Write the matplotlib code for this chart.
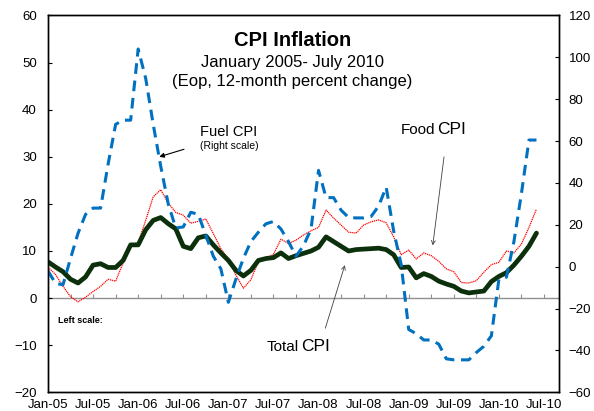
import matplotlib
matplotlib.use('Agg')
import matplotlib.pyplot as plt

plt.rcParams['font.family'] = ['Liberation Sans', 'DejaVu Sans']

# months Jan-05 .. Jun-10 (index 0 = Jan-05)
months = list(range(66))

total_cpi = [7.7, 6.6, 5.6, 4.0, 3.2, 4.5, 7.0, 7.3, 6.5, 6.5, 8.0, 11.3,
             11.3, 14.5, 16.5, 17.1, 15.8, 14.7, 11.0, 10.5, 12.8, 13.2, 11.3, 9.6,
             8.0, 5.9, 4.7, 5.9, 8.0, 8.4, 8.6, 9.6, 8.4, 9.0, 9.5, 10.0,
             10.8, 13.0, 12.0, 11.0, 10.0, 10.3, 10.4, 10.5, 10.6, 10.3, 9.2, 6.5,
             6.6, 4.3, 5.2, 4.6, 3.6, 3.0, 2.5, 1.5, 1.1, 1.3, 1.5, 3.5,
             4.6, 5.4, 7.0, 8.9, 11.0, 13.8]

food_cpi = [6.6, 5.0, 2.5, 0.3, -0.8, 0.2, 1.4, 2.5, 4.0, 3.6, 7.5, 11.3,
            11.8, 16.5, 21.5, 23.0, 20.2, 18.2, 17.6, 15.9, 16.3, 16.8, 13.7, 10.5,
            8.2, 4.9, 2.1, 3.9, 7.8, 8.4, 9.3, 12.5, 11.6, 12.3, 13.4, 14.3,
            15.0, 18.7, 17.0, 15.5, 14.0, 13.8, 15.5, 16.2, 16.6, 16.0, 13.0, 9.2,
            10.2, 8.3, 9.6, 9.0, 7.8, 6.2, 5.6, 3.3, 3.2, 3.7, 5.5, 7.1,
            7.6, 10.0, 9.6, 11.5, 15.0, 18.9]

fuel_cpi = [-2, -8, -8.6, 4, 16, 25, 28, 28, 49, 68, 70, 70,
            104, 90, 68, 48, 30, 18.5, 19, 26, 25, 15, 5, -1,
            -17, -6, 4, 12, 16.5, 20.5, 21.6, 18, 12, 5, 10, 18,
            46, 33, 33, 27, 23.5, 23.3, 23.3, 24, 29, 38, 17, 1,
            -30, -32, -35, -35, -37, -44, -44.5, -44.5, -44.5, -41, -38, -33,
            -6, -5, 12, 35, 60.5, 60.5]

tick_pos = list(range(0, 67, 6))
tick_labels = ['Jan-05', 'Jul-05', 'Jan-06', 'Jul-06', 'Jan-07', 'Jul-07',
               'Jan-08', 'Jul-08', 'Jan-09', 'Jul-09', 'Jan-10', 'Jul-10']

fig = plt.figure(figsize=(5.94, 4.11), dpi=100)
ax = fig.add_axes([0.0808, 0.0455, 0.8603, 0.9168])
ax2 = ax.twinx()

ax.plot(months, food_cpi, color='#ff0000', lw=0.9, ls=(0, (1, 0.6)), zorder=3)
ax.plot(months, total_cpi, color='#0b300b', lw=3.4, solid_joinstyle='round',
        solid_capstyle='round', zorder=4)
ax2.plot(months, fuel_cpi, color='#0070c0', lw=2.2, dashes=(3.5, 2.2))

ax.set_xlim(0, 68)
ax.set_ylim(-20, 60)
ax2.set_ylim(-60, 120)
ax.set_yticks(range(-20, 61, 10))
ax2.set_yticks(range(-60, 121, 20))
ax.set_xticks(tick_pos)
ax.set_xticklabels(tick_labels)

ax.tick_params(axis='x', length=0, pad=5, labelsize=9.5)
ax.tick_params(axis='y', direction='in', length=3, pad=8, labelsize=9.5)
ax2.tick_params(axis='y', direction='in', length=3, pad=7, labelsize=9.5)
for lab in ax.get_yticklabels():
    lab.set_verticalalignment('center_baseline')
for a in (ax, ax2):
    for s in a.spines.values():
        s.set_linewidth(1.0)

# zero line of the left scale with quarterly ticks
zero = ax.secondary_xaxis(0.25)
zero.set_xticks(range(0, 67, 3))
zero.tick_params(direction='in', length=3, color='#909090', labelbottom=False,
                 labeltop=False)
zero.spines['bottom'].set_color('#909090')
zero.spines['bottom'].set_linewidth(1.0)

ax.text(0.478, 0.933, 'CPI Inflation', transform=ax.transAxes, ha='center',
        va='center', fontsize=14.5, fontweight='bold')
ax.text(0.478, 0.874, 'January 2005- July 2010', transform=ax.transAxes,
        ha='center', va='center', fontsize=12)
ax.text(0.478, 0.824, '(Eop, 12-month percent change)', transform=ax.transAxes,
        ha='center', va='center', fontsize=12)

ax.text(24.1, 35.3, 'Fuel CPI', ha='center', va='center', fontsize=10.5)
ax.text(24.1, 32.2, '(Right scale)', ha='center', va='center', fontsize=7.5)
ax.annotate('', xy=(14.8, 30.0), xytext=(18.1, 31.6),
            arrowprops=dict(arrowstyle='-|>', color='black', lw=0.8,
                            mutation_scale=7, shrinkA=0, shrinkB=0))

ax.text(51.5, 35.7, 'Food', ha='right', va='center', fontsize=11)
ax.text(51.8, 35.7, 'CPI', ha='left', va='center', fontsize=12.5)
ax.annotate('', xy=(51.2, 11.2), xytext=(52.7, 30.0),
            arrowprops=dict(arrowstyle='->', color='#404040', lw=0.6,
                            mutation_scale=7, shrinkA=0, shrinkB=0))

ax.text(33.4, -10.3, 'Total', ha='right', va='center', fontsize=11)
ax.text(33.7, -10.3, 'CPI', ha='left', va='center', fontsize=12.5)
ax.annotate('', xy=(39.5, 7.0), xytext=(36.9, -6.4),
            arrowprops=dict(arrowstyle='->', color='#404040', lw=0.6,
                            mutation_scale=7, shrinkA=0, shrinkB=0))

ax.text(1.3, -4.7, 'Left scale:', ha='left', va='center', fontsize=6.5,
        fontweight='bold')

fig.savefig('out.png', dpi=100)
